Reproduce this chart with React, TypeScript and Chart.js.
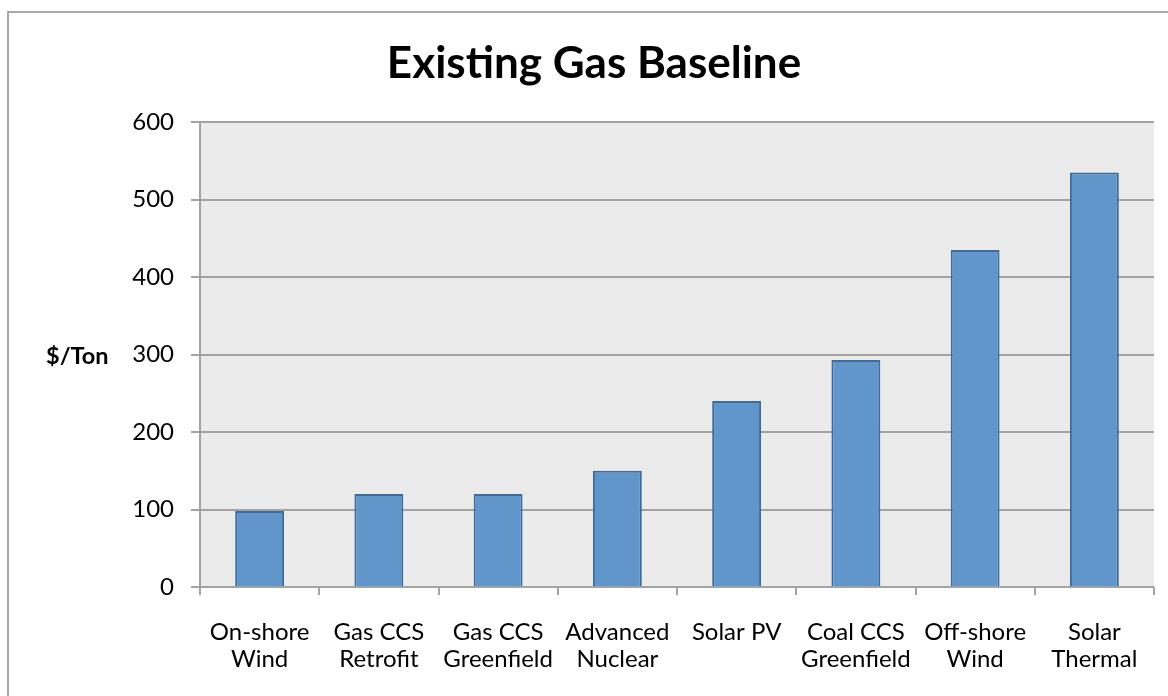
import React, { useEffect, useRef } from "react";
import { Chart, registerables } from "chart.js";

Chart.register(...registerables);

// Technologies along the x axis (two-line labels)
const categories: string[][] = [
  ["On-shore", "Wind"],
  ["Gas CCS", "Retrofit"],
  ["Gas CCS", "Greenfield"],
  ["Advanced", "Nuclear"],
  ["Solar PV"],
  ["Coal CCS", "Greenfield"],
  ["Off-shore", "Wind"],
  ["Solar", "Thermal"],
];

// Abatement cost, $ per ton
const costPerTon: number[] = [98, 120, 120, 150, 240, 293, 435, 535];

const chartTitle = "Existing Gas Baseline";
const yAxisTitle = "$/Ton";
const yMin = 0;
const yMax = 600;
const yStep = 100;

const FONT = "Lato, 'Open Sans', sans-serif";
const GRID = "#a3a3a3";

const decorations = {
  id: "decorations",
  beforeDraw(chart: Chart) {
    const { ctx, chartArea } = chart;
    ctx.save();
    ctx.fillStyle = "#ebebeb";
    ctx.fillRect(
      chartArea.left,
      chartArea.top,
      chartArea.right - chartArea.left,
      chartArea.bottom - chartArea.top
    );
    ctx.restore();
  },
  afterDraw(chart: Chart) {
    const { ctx, chartArea } = chart;
    ctx.save();
    ctx.fillStyle = "#000";
    ctx.textBaseline = "alphabetic";
    ctx.font = `bold 44px ${FONT}`;
    ctx.textAlign = "center";
    ctx.fillText(chartTitle, 594, 78);
    ctx.font = `bold 23.5px ${FONT}`;
    ctx.textAlign = "left";
    ctx.textBaseline = "middle";
    ctx.fillText(yAxisTitle, 46, (chartArea.top + chartArea.bottom) / 2 + 2);
    ctx.restore();
  },
};

export default function App() {
  const canvasRef = useRef<HTMLCanvasElement | null>(null);

  useEffect(() => {
    if (!canvasRef.current) return;
    const chart = new Chart(canvasRef.current, {
      type: "bar",
      data: {
        labels: categories,
        datasets: [
          {
            data: costPerTon,
            backgroundColor: "#6096c9",
            borderColor: "#3b6ca0",
            borderWidth: 2,
            barPercentage: 0.41,
            categoryPercentage: 1,
          },
        ],
      },
      options: {
        animation: false,
        responsive: false,
        maintainAspectRatio: false,
        layout: { padding: { top: 122, right: 14, bottom: 0, left: 0 } },
        plugins: {
          legend: { display: false },
          title: { display: false },
          tooltip: { enabled: false },
        },
        scales: {
          x: {
            afterFit(scale: any) {
              scale.height = 109;
            },
            grid: {
              display: true,
              offset: true,
              drawOnChartArea: false,
              drawTicks: true,
              tickLength: 8,
              color: GRID,
              lineWidth: 2,
            },
            border: { display: false },
            ticks: {
              color: "#000",
              padding: 24,
              maxRotation: 0,
              autoSkip: false,
              font: { family: FONT, size: 24, lineHeight: 1.12 },
            },
          },
          y: {
            min: yMin,
            max: yMax,
            afterFit(scale: any) {
              scale.width = 200;
            },
            grid: {
              color: GRID,
              lineWidth: 2,
              tickLength: 9,
              drawTicks: true,
            },
            border: { display: true, color: GRID, width: 2 },
            ticks: {
              stepSize: yStep,
              color: "#000",
              padding: 17,
              font: { family: FONT, size: 24 },
            },
          },
        },
      },
      plugins: [decorations],
    });
    return () => chart.destroy();
  }, []);

  return (
    <div
      style={{
        position: "fixed",
        left: 0,
        top: 0,
        width: 1168,
        height: 696,
        overflow: "hidden",
        background: "#fff",
      }}
    >
      <div
        style={{
          position: "absolute",
          left: 7,
          top: 11,
          width: 1200,
          height: 720,
          borderTop: "2px solid #a8a8a8",
          borderLeft: "2px solid #a8a8a8",
          boxSizing: "border-box",
        }}
      />
      <canvas
        ref={canvasRef}
        width={1168}
        height={696}
        style={{ position: "absolute", left: 0, top: 0, width: 1168, height: 696 }}
      />
    </div>
  );
}
